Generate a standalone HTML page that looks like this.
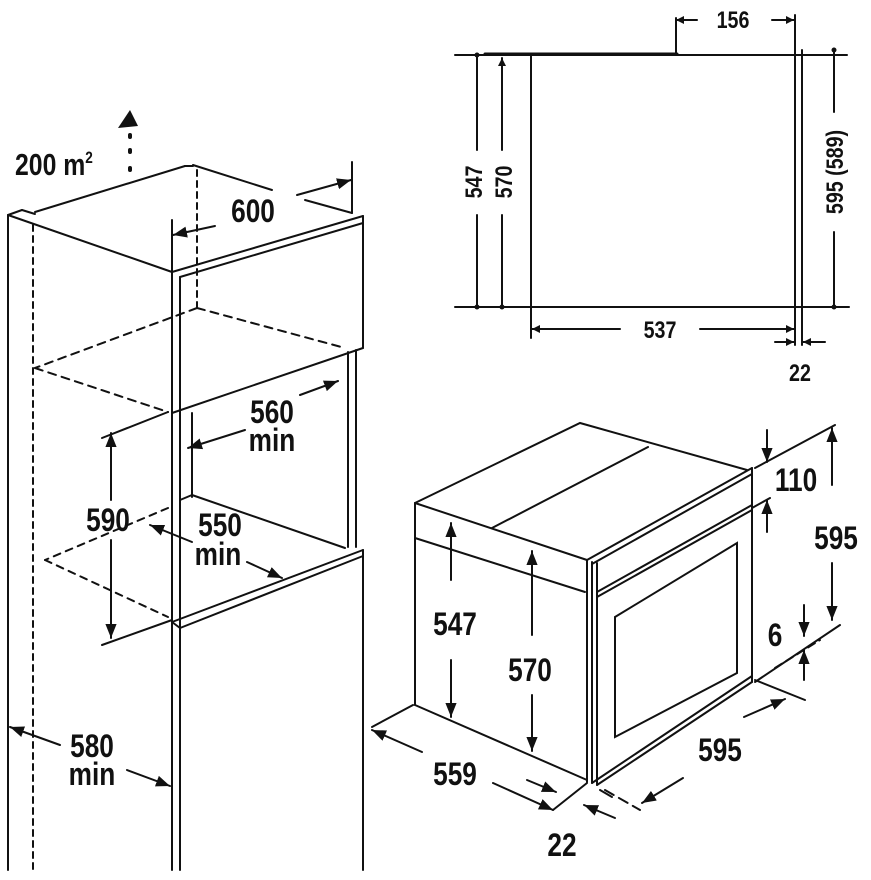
<!DOCTYPE html>
<html><head><meta charset="utf-8"><style>
html,body{margin:0;padding:0;background:#fff}
svg{display:block}
text{font-family:"Liberation Sans",sans-serif;font-weight:bold;fill:#111}
</style></head><body>
<svg width="871" height="880" viewBox="0 0 871 880" xmlns="http://www.w3.org/2000/svg">
<defs>
<marker id="a" viewBox="0 0 10 10" refX="10" refY="5" markerWidth="8" markerHeight="8" markerUnits="userSpaceOnUse" orient="auto-start-reverse"><path d="M0,0 L10,5 L0,10z" fill="#111"/></marker>
<marker id="b" viewBox="0 0 10 10" refX="10" refY="5" markerWidth="14" markerHeight="14" markerUnits="userSpaceOnUse" orient="auto-start-reverse"><path d="M0,1 L10,5 L0,9z" fill="#111"/></marker>
<marker id="d" viewBox="0 0 10 10" refX="5" refY="5" markerWidth="5" markerHeight="5" markerUnits="userSpaceOnUse"><circle cx="5" cy="5" r="5" fill="#111"/></marker>
</defs>
<g stroke="#111" stroke-width="2" fill="none" stroke-linecap="round">
<!-- TOP RIGHT -->
<line x1="455" y1="55" x2="847" y2="55"/>
<line x1="485" y1="54" x2="677" y2="54" stroke-width="3"/>
<line x1="455" y1="307" x2="849" y2="307"/>
<line x1="531" y1="55" x2="531" y2="338"/>
<line x1="795" y1="15" x2="795" y2="345"/>
<line x1="802" y1="50" x2="802" y2="345"/>
<line x1="676" y1="55" x2="676" y2="18"/>
<line x1="697" y1="20" x2="676" y2="20" marker-end="url(#a)"/>
<line x1="772" y1="20" x2="794" y2="20" marker-end="url(#a)"/>
<line x1="477" y1="55" x2="477" y2="150" marker-start="url(#d)"/>
<line x1="477" y1="215" x2="477" y2="307" marker-end="url(#d)"/>
<line x1="502" y1="58" x2="502" y2="150" marker-start="url(#a)"/>
<line x1="502" y1="215" x2="502" y2="307" marker-end="url(#d)"/>
<line x1="834" y1="50" x2="834" y2="112" marker-start="url(#d)"/>
<line x1="834" y1="232" x2="834" y2="307" marker-end="url(#d)"/>
<line x1="620" y1="329" x2="532" y2="329" marker-end="url(#a)"/>
<line x1="700" y1="329" x2="794" y2="329" marker-end="url(#a)"/>
<line x1="775" y1="342" x2="794" y2="342" marker-end="url(#a)"/>
<line x1="825" y1="342" x2="803" y2="342" marker-end="url(#a)"/>

<!-- LEFT CABINET -->
<line x1="130" y1="135" x2="130" y2="137" stroke-width="4"/>
<line x1="130" y1="150" x2="130" y2="152" stroke-width="4"/>
<line x1="130" y1="168" x2="130" y2="170" stroke-width="4"/>
<line x1="8" y1="215" x2="8" y2="870"/>
<line x1="33" y1="225" x2="33" y2="870" stroke-dasharray="6,5"/>
<line x1="8" y1="215" x2="22" y2="210"/>
<line x1="22" y1="210" x2="35" y2="214"/>
<line x1="35" y1="212" x2="185" y2="166"/>
<line x1="185" y1="166" x2="193" y2="166"/>
<line x1="193" y1="165" x2="272" y2="190"/>
<line x1="305" y1="200" x2="352" y2="213"/>
<line x1="8" y1="215" x2="172" y2="272"/>
<line x1="172" y1="272" x2="363" y2="216"/>
<line x1="180" y1="277" x2="363" y2="223"/>
<line x1="363" y1="216" x2="363" y2="348"/>
<line x1="352" y1="162" x2="352" y2="213"/>
<line x1="297" y1="195" x2="351" y2="180" marker-end="url(#b)"/>
<line x1="172" y1="220" x2="172" y2="272"/>
<line x1="215" y1="226" x2="173" y2="235" marker-end="url(#b)"/>
<line x1="197" y1="170" x2="197" y2="308" stroke-dasharray="6,5"/>
<line x1="197" y1="308" x2="345" y2="348" stroke-dasharray="8,6"/>
<line x1="197" y1="308" x2="35" y2="368" stroke-dasharray="8,6"/>
<line x1="35" y1="368" x2="168" y2="412" stroke-dasharray="8,6"/>
<line x1="172" y1="413" x2="363" y2="348"/>
<line x1="172" y1="272" x2="172" y2="870"/>
<line x1="180" y1="277" x2="180" y2="870"/>
<line x1="192" y1="413" x2="192" y2="497"/>
<line x1="348" y1="352" x2="348" y2="547"/>
<line x1="356" y1="350" x2="356" y2="547"/>
<line x1="180" y1="500" x2="192" y2="495"/>
<line x1="192" y1="495" x2="345" y2="548"/>
<line x1="172" y1="622" x2="363" y2="550"/>
<line x1="180" y1="628" x2="363" y2="556"/>
<line x1="172" y1="622" x2="180" y2="628"/>
<line x1="363" y1="550" x2="363" y2="870"/>
<line x1="168" y1="508" x2="45" y2="560" stroke-dasharray="7,6"/>
<line x1="45" y1="560" x2="168" y2="617" stroke-dasharray="7,6"/>
<line x1="102" y1="438" x2="168" y2="412"/>
<line x1="102" y1="645" x2="172" y2="620"/>
<line x1="111" y1="500" x2="111" y2="433" marker-end="url(#b)"/>
<line x1="111" y1="540" x2="111" y2="638" marker-end="url(#b)"/>
<line x1="300" y1="395" x2="338" y2="381" marker-end="url(#b)"/>
<line x1="245" y1="430" x2="188" y2="448" marker-end="url(#b)"/>
<line x1="192" y1="542" x2="150" y2="525" marker-end="url(#b)"/>
<line x1="247" y1="562" x2="282" y2="578" marker-end="url(#b)"/>
<line x1="60" y1="745" x2="10" y2="727" marker-end="url(#b)"/>
<line x1="127" y1="770" x2="170" y2="786" marker-end="url(#b)"/>

<!-- OVEN -->
<polyline points="415,503 580,423 747,470"/>
<line x1="415" y1="503" x2="587" y2="560"/>
<line x1="648" y1="447" x2="492" y2="528"/>
<line x1="415" y1="503" x2="415" y2="705"/>
<line x1="415" y1="538" x2="585" y2="592"/>
<line x1="415" y1="705" x2="587" y2="780"/>
<line x1="587" y1="560" x2="587" y2="782"/>
<line x1="592" y1="562" x2="592" y2="783"/>
<line x1="597" y1="563" x2="597" y2="785"/>
<line x1="587" y1="560" x2="752" y2="468"/>
<line x1="592" y1="564" x2="752" y2="474"/>
<line x1="597" y1="592" x2="752" y2="505"/>
<line x1="597" y1="597" x2="752" y2="510"/>
<line x1="752" y1="468" x2="752" y2="682"/>
<line x1="597" y1="785" x2="752" y2="682"/>
<line x1="592" y1="783" x2="752" y2="676"/>
<polygon points="615,617 737,543 737,673 615,737"/>
<line x1="451" y1="580" x2="451" y2="523" marker-end="url(#b)"/>
<line x1="451" y1="660" x2="451" y2="717" marker-end="url(#b)"/>
<line x1="532" y1="635" x2="532" y2="551" marker-end="url(#b)"/>
<line x1="532" y1="695" x2="532" y2="751" marker-end="url(#b)"/>
<line x1="413" y1="705" x2="372" y2="727"/>
<line x1="422" y1="752" x2="372" y2="730" marker-end="url(#b)"/>
<line x1="493" y1="783" x2="553" y2="810" marker-end="url(#b)"/>
<line x1="587" y1="783" x2="553" y2="810"/>
<line x1="527" y1="780" x2="556" y2="792" marker-end="url(#b)"/>
<line x1="615" y1="818" x2="584" y2="805" marker-end="url(#b)"/>
<line x1="600" y1="790" x2="612" y2="797"/>
<line x1="605" y1="790" x2="640" y2="810" stroke-dasharray="10,6"/>
<line x1="755" y1="680" x2="805" y2="700"/>
<line x1="744" y1="717" x2="785" y2="699" marker-end="url(#b)"/>
<line x1="683" y1="778" x2="642" y2="803" marker-end="url(#b)"/>
<line x1="755" y1="468" x2="835" y2="425"/>
<line x1="767" y1="430" x2="767" y2="462" marker-end="url(#b)"/>
<line x1="767" y1="532" x2="767" y2="500" marker-end="url(#b)"/>
<line x1="752" y1="508" x2="770" y2="498"/>
<line x1="832" y1="485" x2="832" y2="428" marker-end="url(#b)"/>
<line x1="832" y1="563" x2="832" y2="620" marker-end="url(#b)"/>
<line x1="755" y1="682" x2="840" y2="625"/>
<line x1="775" y1="668" x2="820" y2="640" stroke-dasharray="8,5"/>
<line x1="804" y1="605" x2="804" y2="636" marker-end="url(#b)"/>
<line x1="804" y1="680" x2="804" y2="650" marker-end="url(#b)"/>
</g>
<path d="M118,128 L130,110 L138,126 z" fill="#111"/>
<text transform="translate(15,175) scale(0.8,1)" font-size="31">200 m<tspan font-size="17" dy="-12">2</tspan></text>
<g font-size="32" text-anchor="middle">
<text transform="translate(253,222) scale(0.82,1)">600</text>
<text transform="translate(272,423) scale(0.82,1)">560</text>
<text transform="translate(272,451) scale(0.82,1)">min</text>
<text transform="translate(108,531) scale(0.82,1)">590</text>
<text transform="translate(220,536) scale(0.82,1)">550</text>
<text transform="translate(218,565) scale(0.82,1)">min</text>
<text transform="translate(92,757) scale(0.82,1)">580</text>
<text transform="translate(92,785) scale(0.82,1)">min</text>
<text transform="translate(455,635) scale(0.82,1)">547</text>
<text transform="translate(530,681) scale(0.82,1)">570</text>
<text transform="translate(455,785) scale(0.82,1)">559</text>
<text transform="translate(562,856) scale(0.82,1)">22</text>
<text transform="translate(720,761) scale(0.82,1)">595</text>
<text transform="translate(796,491) scale(0.82,1)">110</text>
<text transform="translate(836,549) scale(0.82,1)">595</text>
<text transform="translate(775,646) scale(0.82,1)">6</text>
</g>
<g font-size="24" text-anchor="middle">
<text transform="translate(733,28) scale(0.82,1)">156</text>
<text transform="translate(660,338) scale(0.82,1)">537</text>
<text transform="translate(800,381) scale(0.82,1)">22</text>
<text transform="translate(482,182) rotate(-90) scale(0.82,1)">547</text>
<text transform="translate(512,182) rotate(-90) scale(0.82,1)">570</text>
<text transform="translate(843,172) rotate(-90) scale(0.82,1)">595 (589)</text>
</g>
</svg>
</body></html>
